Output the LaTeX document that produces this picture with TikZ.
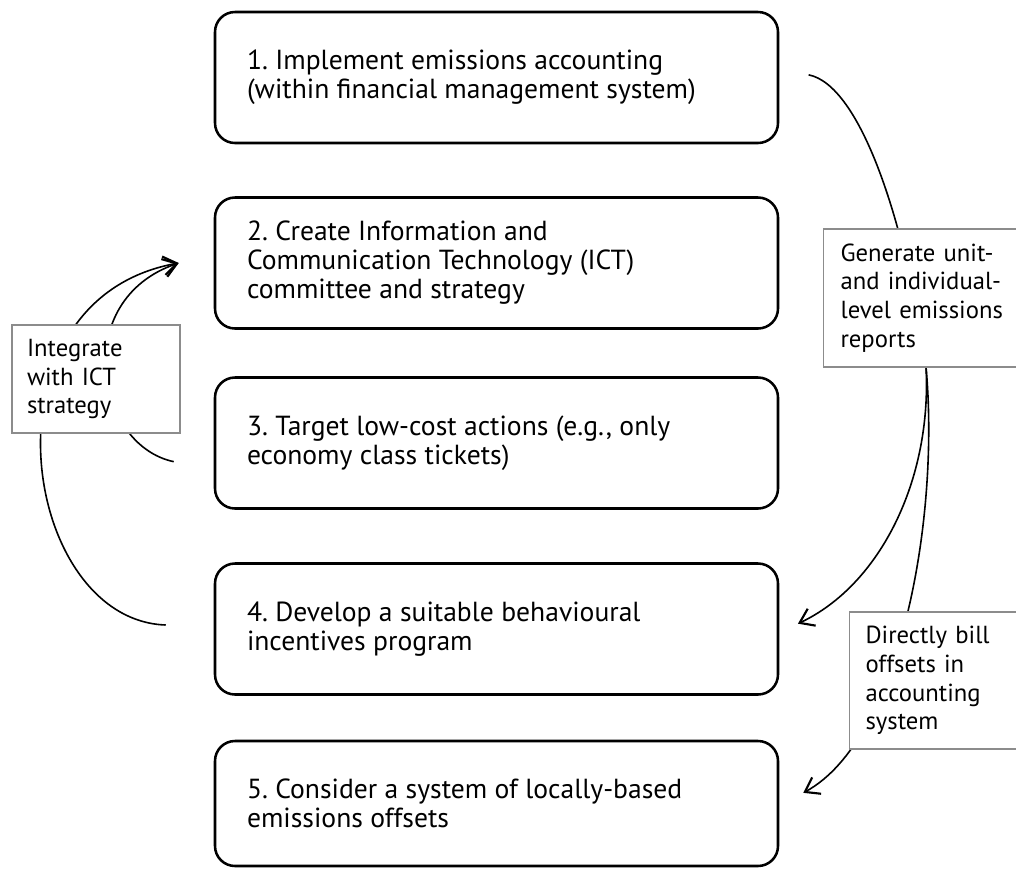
\documentclass[tikz,border=0pt]{standalone}
\usepackage{fontspec}
\setmainfont{PT Sans}
\usetikzlibrary{arrows.meta}
\frenchspacing
\begin{document}
\begin{tikzpicture}[x=0.75pt,y=-0.75pt,
  stepbox/.style={draw=black,line width=1.9pt,rounded corners=15pt,
    minimum width=422.25pt,minimum height=98.25pt},
  steptext/.style={anchor=west,inner sep=0pt,align=left,
    font=\fontsize{20.7}{21.8}\selectfont},
  lbl/.style={draw=black!45,line width=0.8pt,fill=white,align=left,
    font=\fontsize{18.5}{21.6}\selectfont},
  conn/.style={line width=1.2pt,-{Straight Barb[length=10pt,width=14pt,line width=1.6pt]}},
  plain/.style={line width=1.2pt}]
\useasboundingbox (0,0) rectangle (1016,871);
\node[stepbox] (b1) at (496.5,77.5) {};
\node[stepbox] (b2) at (496.5,263) {};
\node[stepbox] (b3) at (496.5,443) {};
\node[stepbox] (b4) at (496.5,629) {};
\node[stepbox,minimum height=93.75pt] (b5) at (496.5,803.5) {};
\node[steptext] (t1) at ([xshift=24.75pt]b1.west) {1. Implement emissions accounting\\(within financial management system)};
\node[steptext] (t2) at ([xshift=24.75pt]b2.west) {2. Create Information and\\Communication Technology (ICT)\\committee and strategy};
\node[steptext] (t3) at ([xshift=24.75pt]b3.west) {3. Target low-cost actions (e.g., only\\economy class tickets)};
\node[steptext] (t4) at ([xshift=24.75pt]b4.west) {4. Develop a suitable behavioural\\incentives program};
\node[steptext] (t5) at ([xshift=24.75pt]b5.west) {5. Consider a system of locally-based\\emissions offsets};
% left connectors
\coordinate (e2) at ([xshift=-26.25pt]b2.west);
\coordinate (s3) at ([xshift=-30pt,yshift=-14pt]b3.west);
\coordinate (s4) at ([xshift=-36pt,yshift=3pt]b4.west);
\draw[conn] (s3) .. controls (95,445) and (70,300) .. (e2);
\draw[conn] (s4) .. controls (20,620) and (-25,300) .. (e2);
% right connectors
\coordinate (s1) at ([xshift=22pt,yshift=2pt]b1.east);
\coordinate (e4) at ([xshift=14pt,yshift=4pt]b4.east);
\coordinate (e5) at ([xshift=18pt,yshift=8pt]b5.east);
\coordinate (m) at (926,367);
\draw[plain] (s1) .. controls (860,85) and (905,220) .. (m);
\draw[conn] (m) .. controls (932,480) and (880,585) .. (e4);
\draw[conn] (m) .. controls (940,520) and (900,740) .. (e5);
% labels
\node[lbl,inner xsep=11.25pt,text width=103.5pt,minimum height=81pt] (L1) at (96,379) {Integrate\\with ICT\\strategy};
\node[lbl,inner xsep=12.75pt,text width=130pt,minimum height=103.5pt,anchor=west] (L2) at (823,298) {Generate unit-\\and individual-\\level emissions\\reports};
\node[lbl,inner xsep=12pt,text width=115pt,minimum height=102.75pt,anchor=west] (L3) at (849,680.5) {Directly bill\\offsets in\\accounting\\system};
\end{tikzpicture}
\end{document}
